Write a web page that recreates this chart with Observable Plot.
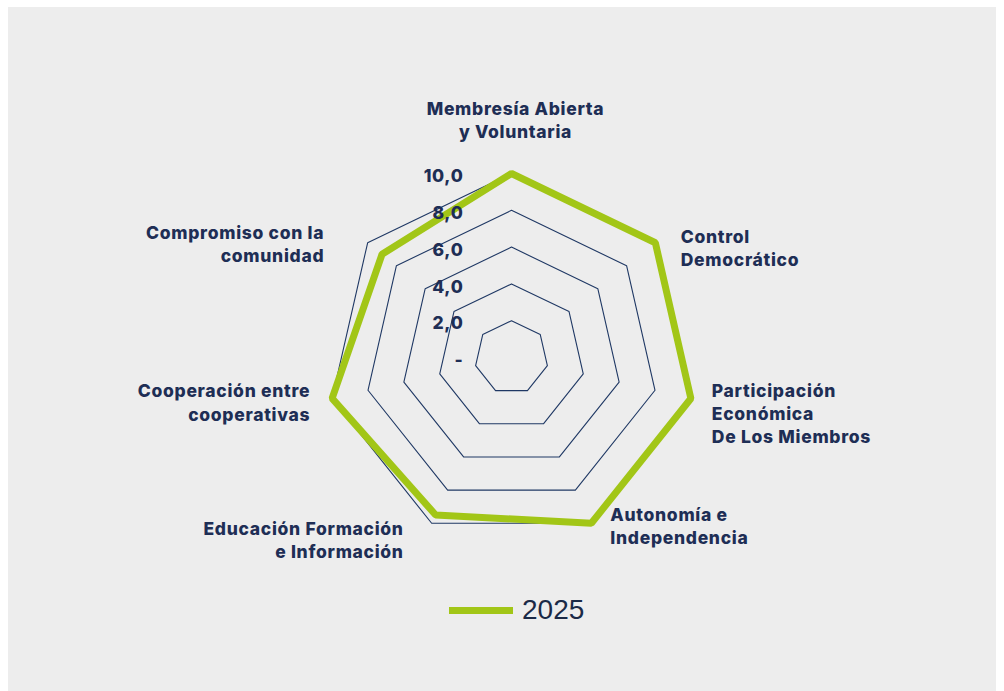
<!DOCTYPE html>
<html>
<head>
<meta charset="utf-8">
<script src="https://cdn.jsdelivr.net/npm/d3@7"></script>
<script src="https://cdn.jsdelivr.net/npm/@observablehq/plot@0.6"></script>
<style>
  html, body { margin: 0; padding: 0; background: #ffffff; }
  #panel { position: absolute; left: 8px; top: 7px; width: 988px; height: 684px; background: #ededed; overflow: hidden; }
  #chart { position: absolute; left: 0; top: 0; }
  #legend { position: absolute; left: 441px; top: 587px; display: flex; align-items: center; font-family: "Liberation Sans", Arial, sans-serif; font-size: 28px; color: #1b2a47; }
  #legend .swatch { display: inline-block; width: 64px; height: 7px; background: #a2c617; margin-right: 9px; }
</style>
</head>
<body>
<div id="panel">
  <div id="chart"></div>
  <div id="legend"><span class="swatch"></span><span>2025</span></div>
</div>
<script>
// ---- Data ----
const categories = [
  "Membresía Abierta\ny Voluntaria",
  "Control\nDemocrático",
  "Participación\nEconómica\nDe Los Miembros",
  "Autonomía e\nIndependencia",
  "Educación Formación\ne Información",
  "Cooperación entre\ncooperativas",
  "Compromiso con la\ncomunidad"
];
const values2025 = [10, 10, 10, 10, 9.5, 10, 9.0];
const ticks = [0, 2, 4, 6, 8, 10];
const tickLabels = ["-", "2,0", "4,0", "6,0", "8,0", "10,0"];
const seriesName = "2025";

// ---- Layout (styles, not data) ----
const W = 988, H = 585;
const cx = 503, cy = 350, pxPerUnit = 18.4;
const labelRadius = 11;
const labelNudge = [[4, -36], [11, 16], [3, 10], [11, -15], [-20, -1], [-4, -1], [-29, 12]];
const navy = "#1e2e55";
const green = "#a2c617";
const font = "Inter, 'Open Sans', sans-serif";
const fs = 17.5;

const n = categories.length;
const ang = i => i * 2 * Math.PI / n;

const ringPts = [];
for (const t of ticks.filter(t => t > 0)) {
  for (let i = 0; i < n; i++) ringPts.push({x: t * Math.sin(ang(i)), y: t * Math.cos(ang(i)), ring: t});
}
const seriesPts = values2025.map((v, i) => ({x: v * Math.sin(ang(i)), y: v * Math.cos(ang(i)), series: seriesName}));
const tickData = ticks.map((t, i) => ({v: t, label: tickLabels[i]}));

const labelMarks = categories.map((c, i) => {
  const s = Math.sin(ang(i));
  const anchor = s > 0.1 ? "start" : s < -0.1 ? "end" : "middle";
  return Plot.text([{x: labelRadius * s, y: labelRadius * Math.cos(ang(i)), t: c}], {
    x: "x", y: "y", text: "t",
    textAnchor: anchor, lineAnchor: "middle", lineHeight: 1.33,
    dx: labelNudge[i][0], dy: labelNudge[i][1],
    fontSize: fs, fontWeight: 800, fill: navy, fontFamily: font
  });
});

const chart = Plot.plot({
  width: W, height: H, margin: 0,
  x: {domain: [-cx / pxPerUnit, (W - cx) / pxPerUnit], axis: null},
  y: {domain: [-(H - cy) / pxPerUnit, cy / pxPerUnit], axis: null},
  style: {background: "transparent", overflow: "visible", letterSpacing: "0.7px"},
  marks: [
    Plot.line(ringPts, {x: "x", y: "y", z: "ring", curve: "linear-closed", stroke: "#1f3864", strokeWidth: 1.1}),
    Plot.line(seriesPts, {x: "x", y: "y", z: "series", curve: "linear-closed", stroke: green, strokeWidth: 7, strokeLinejoin: "miter"}),
    Plot.text(tickData, {x: 0, y: "v", text: "label", textAnchor: "end", dx: -48, dy: 3, fontSize: fs, fontWeight: 800, fill: navy, fontFamily: font}),
    ...labelMarks
  ]
});
document.getElementById("chart").appendChild(chart);
</script>
</body>
</html>
